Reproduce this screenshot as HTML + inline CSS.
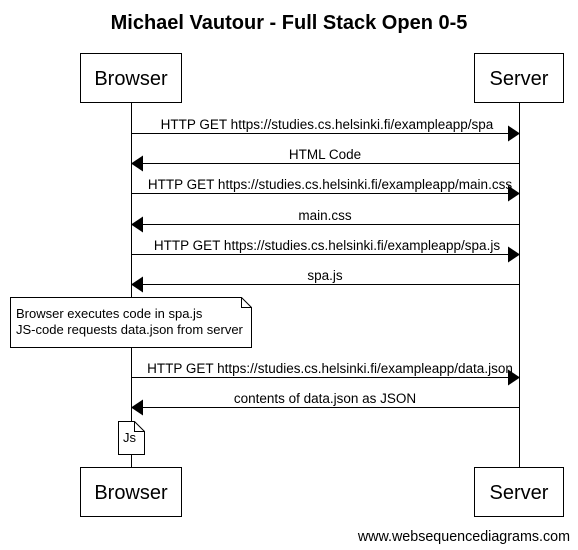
<!DOCTYPE html>
<html><head><meta charset="utf-8"><style>
html,body{margin:0;padding:0;background:#fff;}
svg{display:block;font-family:"Liberation Sans",Arial,sans-serif;}
</style></head><body>
<svg width="578" height="550" viewBox="0 0 578 550" xmlns="http://www.w3.org/2000/svg">
<text x="289" y="29" text-anchor="middle" font-size="20" font-weight="bold">Michael Vautour - Full Stack Open 0-5</text>
<g stroke="#000" stroke-width="1" fill="none">
<line x1="131.5" y1="102" x2="131.5" y2="467"/>
<line x1="519.5" y1="102" x2="519.5" y2="467"/>
<rect x="80.5" y="53.5" width="101" height="49" fill="#fff"/>
<rect x="474.5" y="53.5" width="89" height="49" fill="#fff"/>
<rect x="80.5" y="467.5" width="101" height="49" fill="#fff"/>
<rect x="474.5" y="467.5" width="89" height="49" fill="#fff"/>
</g>
<g font-size="20" text-anchor="middle">
<text x="131" y="85">Browser</text>
<text x="519" y="85">Server</text>
<text x="131" y="499">Browser</text>
<text x="519" y="499">Server</text>
</g>
<g stroke="#000" stroke-width="1">
<line x1="132" y1="133.5" x2="508" y2="133.5"/>
<line x1="143" y1="163.5" x2="519" y2="163.5"/>
<line x1="132" y1="193.5" x2="508" y2="193.5"/>
<line x1="143" y1="224.5" x2="519" y2="224.5"/>
<line x1="132" y1="254.5" x2="508" y2="254.5"/>
<line x1="143" y1="284.5" x2="519" y2="284.5"/>
<line x1="132" y1="377.5" x2="508" y2="377.5"/>
<line x1="143" y1="407.5" x2="519" y2="407.5"/>
</g>
<g fill="#000">
<polygon points="508,125.5 520,133.5 508,141.5"/>
<polygon points="143,155.5 131,163.5 143,171.5"/>
<polygon points="508,185.5 520,193.5 508,201.5"/>
<polygon points="143,216.5 131,224.5 143,232.5"/>
<polygon points="508,246.5 520,254.5 508,262.5"/>
<polygon points="143,276.5 131,284.5 143,292.5"/>
<polygon points="508,369.5 520,377.5 508,385.5"/>
<polygon points="143,399.5 131,407.5 143,415.5"/>
</g>
<g font-size="13.5" text-anchor="middle">
<text x="327" y="129">HTTP GET https://studies.cs.helsinki.fi/exampleapp/spa</text>
<text x="325" y="159">HTML Code</text>
<text x="330" y="189">HTTP GET https://studies.cs.helsinki.fi/exampleapp/main.css</text>
<text x="325" y="220">main.css</text>
<text x="327" y="250">HTTP GET https://studies.cs.helsinki.fi/exampleapp/spa.js</text>
<text x="325" y="280">spa.js</text>
<text x="330" y="373">HTTP GET https://studies.cs.helsinki.fi/exampleapp/data.json</text>
<text x="325" y="403">contents of data.json as JSON</text>
</g>
<g stroke="#000" stroke-width="1" fill="#fff">
<path d="M10.5,297.5 H241.5 L251.5,307.5 V347.5 H10.5 Z"/>
<path d="M241.5,297.5 V307.5 H251.5" fill="none"/>
<path d="M118.5,421.5 H134.5 L144.5,431.5 V454.5 H118.5 Z"/>
<path d="M134.5,421.5 V431.5 H144.5" fill="none"/>
</g>
<g font-size="13">
<text x="16" y="318">Browser executes code in spa.js</text>
<text x="16" y="334">JS-code requests data.json from server</text>
<text x="123" y="442">Js</text>
</g>
<text x="570" y="541" text-anchor="end" font-size="14.3">www.websequencediagrams.com</text>
</svg>
</body></html>
